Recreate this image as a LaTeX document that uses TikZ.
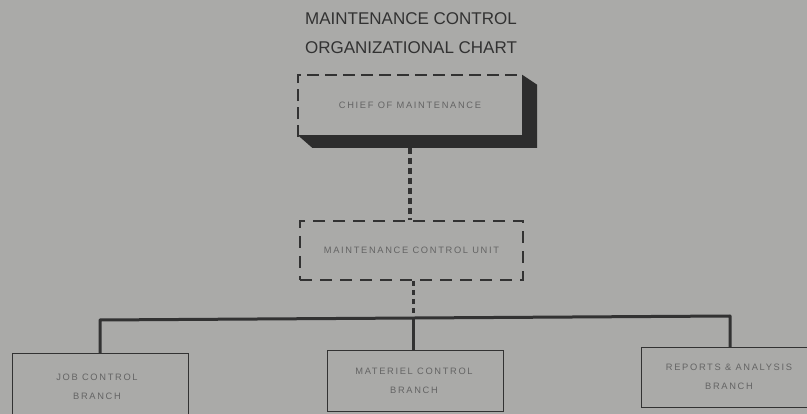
\documentclass[tikz,border=0pt]{standalone}
\usepackage{fontspec}
\setmainfont{Liberation Sans}
\newfontfamily\boxfont[LetterSpace=18]{Liberation Sans}
\definecolor{bg}{RGB}{170,170,168}
\definecolor{ink}{RGB}{50,50,50}
\definecolor{txt}{RGB}{100,100,100}
\begin{document}
\begin{tikzpicture}[x=1pt,y=-1pt,
  title/.style={font=\fontsize{17}{19}\selectfont, text=ink, inner sep=0},
  lbl/.style={font=\boxfont\fontsize{9.3}{19.5}\selectfont, text=txt, align=center, inner sep=0},
  branch/.style={draw=ink, line width=1pt, minimum width=176pt, inner sep=0},
  dashbox/.style={draw=ink, line width=1.8pt, dash pattern=on 12pt off 8pt},
  bus/.style={draw=ink, line width=3pt, line join=round},
  dconn/.style={draw=ink, line width=3.5pt, dash pattern=on 6pt off 4pt}]
\fill[bg] (0,0) rectangle (807,414);
\useasboundingbox (0,0) rectangle (807,414);
\clip (0,0) rectangle (807,414);
% title
\node[title] (t1) at (411,19) {MAINTENANCE CONTROL};
\node[title] (t2) at (411,48) {ORGANIZATIONAL CHART};
% chief of maintenance
\node[minimum width=224pt, minimum height=60pt, inner sep=0] (chief) at (410,105) {};
\fill[ink!90!black] (chief.north east) -- ++(15,10) -- ++(0,63) -- ++(-225,0) -- (chief.south west) -- (chief.south east) -- cycle;
\draw[ink, line width=1.6pt, dash pattern=on 12pt off 6pt] ([yshift=-2pt]chief.south west) -- (chief.north west) -- (chief.north east);
\node[lbl] (chieft) at (chief.center) {CHIEF OF MAINTENANCE};
\coordinate (chiefb) at (410,148);
% maintenance control unit
\node[dashbox, minimum width=223pt, minimum height=59pt, inner sep=0] (mcu) at (411.5,250.5) {};
\node[lbl] (mcut) at (mcu.center) {MAINTENANCE CONTROL UNIT};
\draw[dconn] (chiefb) -- (chiefb |- mcu.north);
% branches
\node[branch, minimum height=76pt] (job) at (100,392) {};
\node[lbl] (jobt) at (97,387) {JOB CONTROL\\BRANCH};
\node[branch, minimum height=61pt] (mat) at (415,381.5) {};
\node[lbl] (matt) at (414,381) {MATERIEL CONTROL\\BRANCH};
\node[branch, minimum height=60pt] (rep) at (729,378) {};
\node[lbl] (rept) at (729,377) {REPORTS \& ANALYSIS\\BRANCH};
% bus
\coordinate (bl) at (100,320);
\coordinate (bm) at (413,318);
\coordinate (br) at (730,316);
\draw[bus] (job.north) -- (bl) -- (br) -- (rep.north -| br);
\draw[ink, line width=3pt] (bm) -- (mat.north -| bm);
\draw[ink, line width=3pt, dash pattern=on 5pt off 4pt] (mcu.south -| bm) -- ([yshift=-6pt]bm);
\end{tikzpicture}
\end{document}
